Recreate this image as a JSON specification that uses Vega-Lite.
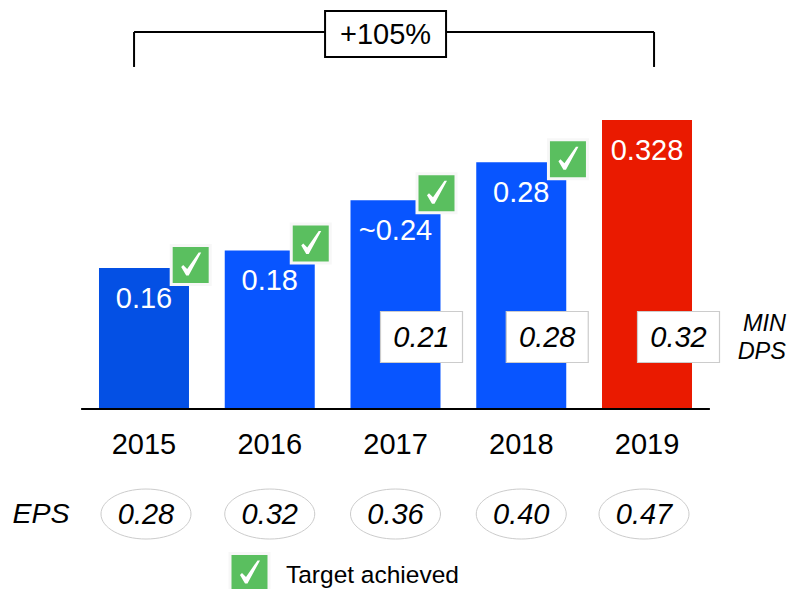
{
  "$schema": "https://vega.github.io/schema/vega-lite/v6.json",
  "width": 792,
  "height": 589,
  "padding": 0,
  "autosize": {"type": "none"},
  "background": "white",
  "view": {"stroke": null},
  "config": {"text": {"font": "Liberation Sans", "fill": "black"}},
  "data": {
    "values": [
      {"year": 2015, "dps": 0.16, "dps_label": "0.16", "min_dps": null, "eps": 0.28, "target_achieved": "yes", "series": "a"},
      {"year": 2016, "dps": 0.18, "dps_label": "0.18", "min_dps": null, "eps": 0.32, "target_achieved": "yes", "series": "b"},
      {"year": 2017, "dps": 0.237, "dps_label": "~0.24", "min_dps": 0.21, "eps": 0.36, "target_achieved": "yes", "series": "b"},
      {"year": 2018, "dps": 0.28, "dps_label": "0.28", "min_dps": 0.28, "eps": 0.40, "target_achieved": "yes", "series": "b"},
      {"year": 2019, "dps": 0.328, "dps_label": "0.328", "min_dps": 0.32, "eps": 0.47, "target_achieved": "no", "series": "c"}
    ]
  },
  "encoding": {
    "x": {"field": "year", "type": "quantitative", "axis": null, "scale": {"domain": [2013.855, 2020.153], "nice": false, "zero": false, "padding": 0}},
    "y": {"type": "quantitative", "field": "dps", "axis": null, "scale": {"domain": [-0.2043, 0.4642], "nice": false, "zero": false, "padding": 0}}
  },
  "layer": [
    {
      "mark": {"type": "bar", "size": 90},
      "encoding": {
        "y2": {"datum": 0},
        "color": {"field": "series", "type": "nominal", "legend": null, "scale": {"domain": ["a", "b", "c"], "range": ["#0450e4", "#0855ff", "#ea1a00"]}}
      }
    },
    {
      "mark": {"type": "text", "fontSize": 29, "fill": "white", "dy": 31, "align": "center", "baseline": "middle"},
      "encoding": {"text": {"field": "dps_label"}}
    },
    {
      "transform": [{"filter": "datum.year == 2015"}],
      "mark": {"type": "rule", "stroke": "black", "strokeWidth": 2},
      "encoding": {"x": {"datum": 2014.5}, "x2": {"datum": 2019.5}, "y": {"datum": 0}}
    },
    {
      "transform": [{"filter": "datum.year == 2015 || datum.year == 2018"}],
      "mark": {"type": "point", "filled": true, "opacity": 1, "size": 4, "fill": "#5abf5f", "stroke": "#f7f7f7", "strokeWidth": 3, "xOffset": 46.7, "yOffset": -3, "shape": "M-19.5,-19.5H19.5V19.5H-19.5Z"}
    },
    {
      "transform": [{"filter": "datum.year == 2015 || datum.year == 2018"}],
      "mark": {"type": "point", "filled": true, "opacity": 1, "size": 4, "fill": "white", "stroke": null, "xOffset": 46.7, "yOffset": -3, "shape": "M-9.5,2L-7.5,0L-3.5,4L8,-12.5L10.5,-12.5L-2,10.5L-4.5,10.5Z"}
    },
    {
      "transform": [{"filter": "datum.year == 2016 || datum.year == 2017"}],
      "mark": {"type": "point", "filled": true, "opacity": 1, "size": 4, "fill": "#5abf5f", "stroke": "#f7f7f7", "strokeWidth": 3, "xOffset": 41, "yOffset": -7, "shape": "M-19.5,-19.5H19.5V19.5H-19.5Z"}
    },
    {
      "transform": [{"filter": "datum.year == 2016 || datum.year == 2017"}],
      "mark": {"type": "point", "filled": true, "opacity": 1, "size": 4, "fill": "white", "stroke": null, "xOffset": 41, "yOffset": -7, "shape": "M-9.5,2L-7.5,0L-3.5,4L8,-12.5L10.5,-12.5L-2,10.5L-4.5,10.5Z"}
    },
    {
      "transform": [{"filter": "datum.min_dps != null && datum.year < 2019"}],
      "mark": {"type": "point", "filled": true, "opacity": 1, "size": 4, "fill": "white", "stroke": "#cccccc", "strokeWidth": 1.2, "xOffset": 26, "shape": "M-41,-25.5H41V25.5H-41Z"},
      "encoding": {"y": {"datum": 0.0817}}
    },
    {
      "transform": [{"filter": "datum.year == 2019"}],
      "mark": {"type": "point", "filled": true, "opacity": 1, "size": 4, "fill": "white", "stroke": "#cccccc", "strokeWidth": 1.2, "xOffset": 31.5, "shape": "M-41,-25.5H41V25.5H-41Z"},
      "encoding": {"y": {"datum": 0.0817}}
    },
    {
      "transform": [{"filter": "datum.min_dps != null && datum.year < 2019"}],
      "mark": {"type": "text", "fontSize": 29, "fontStyle": "italic", "dx": 26, "dy": 1, "align": "center", "baseline": "middle"},
      "encoding": {"y": {"datum": 0.0817}, "text": {"field": "min_dps", "format": ".2f"}}
    },
    {
      "transform": [{"filter": "datum.year == 2019"}],
      "mark": {"type": "text", "fontSize": 29, "fontStyle": "italic", "dx": 31.5, "dy": 1, "align": "center", "baseline": "middle"},
      "encoding": {"y": {"datum": 0.0817}, "text": {"field": "min_dps", "format": ".2f"}}
    },
    {
      "transform": [{"filter": "datum.year == 2015"}],
      "mark": {"type": "text", "fontSize": 23.5, "fontStyle": "italic", "align": "right", "baseline": "middle", "lineHeight": 28, "dy": -13, "text": ["MIN", "DPS"]},
      "encoding": {"x": {"datum": 2020.105}, "y": {"datum": 0.0817}}
    },
    {
      "mark": {"type": "text", "fontSize": 29, "dy": 1, "align": "center", "baseline": "middle"},
      "encoding": {"y": {"datum": -0.0397}, "text": {"field": "year", "format": "d"}}
    },
    {
      "transform": [{"filter": "datum.year == 2015"}],
      "mark": {"type": "rule", "stroke": "black", "strokeWidth": 2},
      "encoding": {"x": {"datum": 2014.921}, "x2": {"datum": 2019.056}, "y": {"datum": 0.4279}}
    },
    {
      "transform": [{"filter": "datum.year == 2015"}],
      "mark": {"type": "rule", "stroke": "black", "strokeWidth": 2},
      "encoding": {"x": {"datum": 2014.921}, "y": {"datum": 0.4279}, "y2": {"datum": 0.3882}}
    },
    {
      "transform": [{"filter": "datum.year == 2015"}],
      "mark": {"type": "rule", "stroke": "black", "strokeWidth": 2},
      "encoding": {"x": {"datum": 2019.056}, "y": {"datum": 0.4279}, "y2": {"datum": 0.3882}}
    },
    {
      "transform": [{"filter": "datum.year == 2015"}],
      "mark": {"type": "point", "filled": true, "opacity": 1, "size": 4, "fill": "white", "stroke": "black", "strokeWidth": 2, "shape": "M-60.5,-23H60.5V23H-60.5Z"},
      "encoding": {"x": {"datum": 2016.921}, "y": {"datum": 0.4256}}
    },
    {
      "transform": [{"filter": "datum.year == 2015"}],
      "mark": {"type": "text", "fontSize": 29, "align": "center", "baseline": "middle", "dy": 1, "text": "+105%"},
      "encoding": {"x": {"datum": 2016.921}, "y": {"datum": 0.4256}}
    },
    {
      "transform": [{"filter": "datum.year == 2015"}],
      "mark": {"type": "text", "fontSize": 28.5, "fontStyle": "italic", "align": "center", "baseline": "middle", "dy": 1, "text": "EPS"},
      "encoding": {"x": {"datum": 2014.181}, "y": {"datum": -0.118}}
    },
    {
      "transform": [{"filter": "datum.year == 2015"}],
      "mark": {"type": "point", "filled": true, "opacity": 1, "size": 4, "fill": "#5abf5f", "stroke": "#f7f7f7", "strokeWidth": 3, "shape": "M-19.5,-19.5H19.5V19.5H-19.5Z"},
      "encoding": {"x": {"datum": 2015.839}, "y": {"datum": -0.186}}
    },
    {
      "transform": [{"filter": "datum.year == 2015"}],
      "mark": {"type": "point", "filled": true, "opacity": 1, "size": 4, "fill": "white", "stroke": null, "shape": "M-9.5,2L-7.5,0L-3.5,4L8,-12.5L10.5,-12.5L-2,10.5L-4.5,10.5Z"},
      "encoding": {"x": {"datum": 2015.839}, "y": {"datum": -0.186}}
    },
    {
      "transform": [{"filter": "datum.year == 2015"}],
      "mark": {"type": "text", "fontSize": 24.5, "align": "left", "baseline": "middle", "text": "Target achieved"},
      "encoding": {"x": {"datum": 2016.129}, "y": {"datum": -0.1896}}
    },
    {
      "transform": [{"filter": "datum.year == 2015"}],
      "mark": {"type": "point", "filled": true, "opacity": 1, "size": 4, "fill": "white", "stroke": "#cccccc", "strokeWidth": 1, "xOffset": 2, "shape": "M-45,0A45,25 0 1,0 45,0A45,25 0 1,0 -45,0Z"},
      "encoding": {"y": {"datum": -0.1192}}
    },
    {
      "transform": [{"filter": "datum.year > 2015 && datum.year < 2019"}],
      "mark": {"type": "point", "filled": true, "opacity": 1, "size": 4, "fill": "white", "stroke": "#cccccc", "strokeWidth": 1, "shape": "M-45,0A45,25 0 1,0 45,0A45,25 0 1,0 -45,0Z"},
      "encoding": {"y": {"datum": -0.1192}}
    },
    {
      "transform": [{"filter": "datum.year == 2019"}],
      "mark": {"type": "point", "filled": true, "opacity": 1, "size": 4, "fill": "white", "stroke": "#cccccc", "strokeWidth": 1, "xOffset": -3, "shape": "M-45,0A45,25 0 1,0 45,0A45,25 0 1,0 -45,0Z"},
      "encoding": {"y": {"datum": -0.1192}}
    },
    {
      "transform": [{"filter": "datum.year == 2015"}],
      "mark": {"type": "text", "fontSize": 29, "fontStyle": "italic", "align": "center", "baseline": "middle", "dx": 2, "dy": 1},
      "encoding": {"y": {"datum": -0.1192}, "text": {"field": "eps", "format": ".2f"}}
    },
    {
      "transform": [{"filter": "datum.year > 2015 && datum.year < 2019"}],
      "mark": {"type": "text", "fontSize": 29, "fontStyle": "italic", "align": "center", "baseline": "middle", "dy": 1},
      "encoding": {"y": {"datum": -0.1192}, "text": {"field": "eps", "format": ".2f"}}
    },
    {
      "transform": [{"filter": "datum.year == 2019"}],
      "mark": {"type": "text", "fontSize": 29, "fontStyle": "italic", "align": "center", "baseline": "middle", "dx": -3, "dy": 1},
      "encoding": {"y": {"datum": -0.1192}, "text": {"field": "eps", "format": ".2f"}}
    }
  ]
}
